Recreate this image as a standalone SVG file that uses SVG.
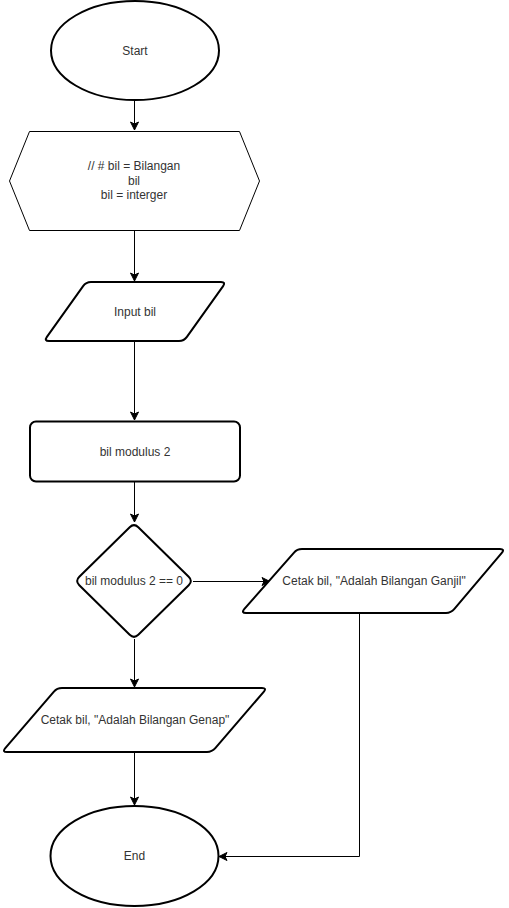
<svg xmlns="http://www.w3.org/2000/svg" width="509" height="908" viewBox="0 0 509 908">
  <style>
    .shape { fill: #ffffff; stroke: #000000; stroke-width: 2; stroke-linejoin: round; }
    .thin { fill: #ffffff; stroke: #000000; stroke-width: 1; }
    .edge { fill: none; stroke: #000000; stroke-width: 1; }
    .label { font-family: "Liberation Sans", Arial, sans-serif; font-size: 12px; fill: #333333; text-anchor: middle; dominant-baseline: central; }
  </style>
  <defs>
    <marker id="arrow" viewBox="0 0 10 10" refX="9" refY="5" markerWidth="10" markerHeight="10" markerUnits="userSpaceOnUse" orient="auto">
      <path d="M1,1 L9,5 L1,9 L3,5 Z" fill="#000000" stroke="#000000" stroke-width="1"/>
    </marker>
  </defs>
  <rect width="509" height="908" fill="#ffffff"/>

  <g id="connectors">
    <path class="edge" d="M134.5,100 V130" marker-end="url(#arrow)"/>
    <path class="edge" d="M134.5,231 V281" marker-end="url(#arrow)"/>
    <path class="edge" d="M134.5,341 V420" marker-end="url(#arrow)"/>
    <path class="edge" d="M134.5,481 V522" marker-end="url(#arrow)"/>
    <path class="edge" d="M193,581.5 H270" marker-end="url(#arrow)"/>
    <path class="edge" d="M134.5,639 V687" marker-end="url(#arrow)"/>
    <path class="edge" d="M134.5,752 V805" marker-end="url(#arrow)"/>
    <path class="edge" d="M359.5,613 V856.5 H219" marker-end="url(#arrow)"/>
  </g>

  <g id="start">
    <ellipse class="shape" cx="135" cy="50.5" rx="84" ry="49.5"/>
    <text class="label" x="135" y="50.5">Start</text>
  </g>

  <g id="declare">
    <polygon class="thin" points="29.5,131.5 239.5,131.5 259.5,181 239.5,230.5 29.5,230.5 9.5,181"/>
    <text class="label" x="134" y="166">// # bil = Bilangan</text>
    <text class="label" x="134" y="180.5">bil</text>
    <text class="label" x="134" y="195">bil = interger</text>
  </g>

  <g id="input">
    <path class="shape" d="M91,282 L221,282 Q226,282 223.1,286.1 L186.9,336.9 Q184,341 179,341 L49,341 Q44,341 46.9,336.9 L83.1,286.1 Q86,282 91,282 Z"/>
    <text class="label" x="135" y="311.5">Input bil</text>
  </g>

  <g id="process">
    <rect class="shape" x="30" y="421.5" width="210" height="60" rx="6" ry="6"/>
    <text class="label" x="135" y="451.5">bil modulus 2</text>
  </g>

  <g id="decision">
    <path class="shape" d="M138.3,527.2 L188.7,576.8 Q193,581 188.7,585.2 L138.3,634.8 Q134,639 129.7,634.8 L79.3,585.2 Q75,581 79.3,576.8 L129.7,527.2 Q134,523 138.3,527.2 Z"/>
    <text class="label" x="134" y="581">bil modulus 2 == 0</text>
  </g>

  <g id="print-odd">
    <path class="shape" d="M302,549 L500,549 Q505,549 501.8,552.8 L454.2,609.2 Q451,613 446,613 L246,613 Q241,613 244.2,609.2 L293.8,552.8 Q297,549 302,549 Z"/>
    <text class="label" x="374" y="581">Cetak bil, "Adalah Bilangan Ganjil"</text>
  </g>

  <g id="print-even">
    <path class="shape" d="M62,688 L262,688 Q267,688 263.7,691.8 L215.3,748.2 Q212,752 207,752 L7,752 Q2,752 5.3,748.2 L53.7,691.8 Q57,688 62,688 Z"/>
    <text class="label" x="135" y="719.5">Cetak bil, "Adalah Bilangan Genap"</text>
  </g>

  <g id="end">
    <ellipse class="shape" cx="134.5" cy="856" rx="84" ry="50"/>
    <text class="label" x="134.5" y="856">End</text>
  </g>
</svg>
